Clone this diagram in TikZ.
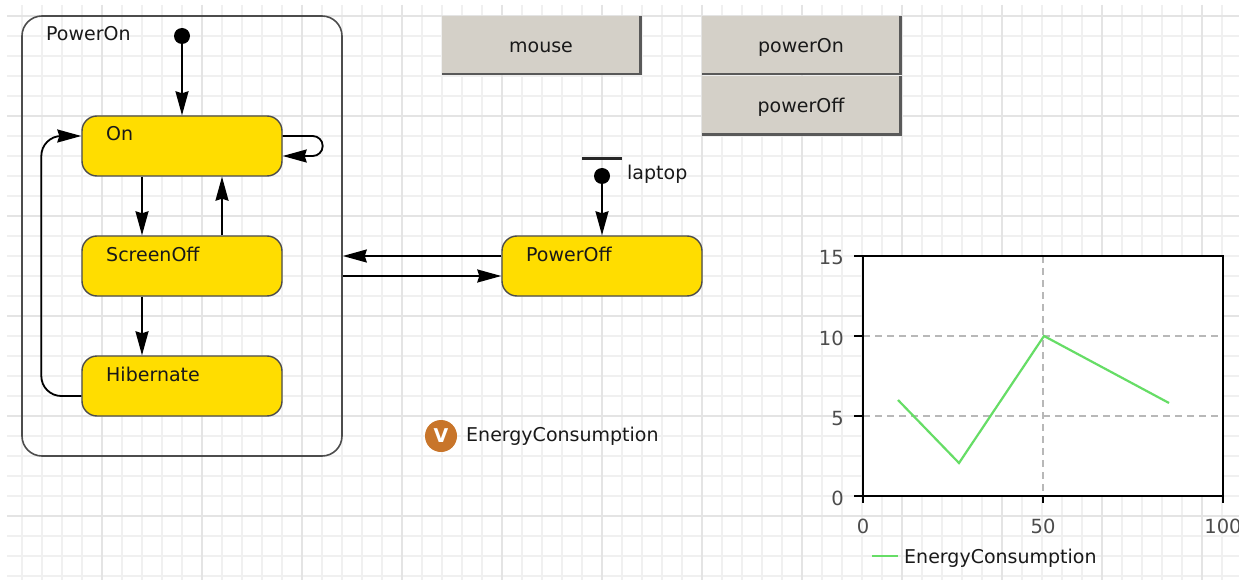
\documentclass[tikz,border=0pt]{standalone}
\usepackage{fontspec}
\setmainfont{DejaVu Sans}
\usepackage{xcolor}
\usetikzlibrary{arrows.meta}
\definecolor{stateyellow}{HTML}{FFDD00}
\definecolor{buttongray}{HTML}{D4D0C8}
\definecolor{gridminor}{HTML}{F0F0F0}
\definecolor{gridmajor}{HTML}{E4E4E4}
\definecolor{linegreen}{HTML}{66DD66}
\definecolor{iconbrown}{HTML}{C8752A}
\tikzset{
  statebox/.style={draw=black!70,fill=stateyellow,line width=1.4pt,rounded corners=15pt,minimum width=200pt,minimum height=60pt,inner sep=0pt},
  statetext/.style={anchor=base west,inner sep=0pt,font=\fontsize{19}{21}\selectfont,text=black!90},
  trans/.style={-{Stealth[length=24pt,width=13pt,inset=2pt]},line width=1.8pt,black},
  buttonbox/.style={fill=buttongray,minimum width=198pt,minimum height=58pt,inner sep=0pt,text height=16pt,text depth=1pt,font=\fontsize{19}{21}\selectfont,text=black!90},
  startdot/.style={circle,fill=black,minimum size=16pt,inner sep=0pt},
  ticktext/.style={inner sep=0pt,font=\fontsize{19.5}{21}\selectfont,text=black!70},
  griddash/.style={black!28,line width=1.6pt,dash pattern=on 7pt off 5pt},
}
\begin{document}
\begin{tikzpicture}[x=1pt,y=-1pt]
    \useasboundingbox (0,0) rectangle (1239,580);
	% grid
	\foreach \x in {22,42,...,1222} \draw[gridminor,line width=1.1pt] (\x,5) -- (\x,580);
	\foreach \y in {16,36,...,576} \draw[gridminor,line width=1.1pt] (7,\y) -- (1239,\y);
	\foreach \x in {102,202,...,1202} \draw[gridmajor,line width=1.3pt] (\x,5) -- (\x,580);
	\foreach \y in {16,116,...,516} \draw[gridmajor,line width=1.3pt] (7,\y) -- (1239,\y);
	% states
	\node[draw=black!70,line width=1.6pt,rounded corners=20pt,minimum width=320pt,minimum height=440pt,inner sep=0pt] (poweron) at (182,236) {};
	\node[statetext] (powerontext) at (46,41) {PowerOn};
	\node[startdot] (init) at (182,36) {};
	\node[statebox] (on) at (182,146) {};
	\node[statebox] (screenoff) at (182,266) {};
	\node[statebox] (hibernate) at (182,386) {};
	\node[statebox] (poweroff) at (602,266) {};
	\node[statetext] (ontext) at (106,141) {On};
	\node[statetext] (screenofftext) at (106,261) {ScreenOff};
	\node[statetext] (hibernatetext) at (106,381) {Hibernate};
	\node[statetext] (powerofftext) at (526,261) {PowerOff};
	\node[startdot] (laptopinit) at (602,176) {};
	\coordinate (barleft) at (582,159);
	\coordinate (barright) at (622,159);
	\node[statetext] (laptoptext) at (627,180) {laptop};
	% transitions
	\draw[trans] (init) -- (on);
	\draw[trans] (laptopinit) -- (poweroff);
	\draw[line width=3pt,black!85] (barleft) -- (barright);
	\draw[trans] ([xshift=-40pt]on.south) -- ([xshift=-40pt]screenoff.north);
	\draw[trans] ([xshift=40pt]screenoff.north) -- ([xshift=40pt]on.south);
	\draw[trans] ([xshift=-40pt]screenoff.south) -- ([xshift=-40pt]hibernate.north);
	\draw[trans,rounded corners=10pt] ([yshift=10pt]on.east) -- ++(40,0) -- ++(0,20) -- ([yshift=-10pt]on.east);
	\draw[trans,rounded corners=20pt] ([yshift=-10pt]hibernate.west) -- ++(-40,0) -- ++(0,-260) -- ([yshift=10pt]on.west);
	\draw[trans] ([yshift=10pt]poweroff.west) -- ([yshift=10pt]poweron.east |- poweroff.west);
	\draw[trans] ([yshift=-10pt]poweron.east |- poweroff.west) -- ([yshift=-10pt]poweroff.west);
	% buttons
	\node[buttonbox] (mouse) at (541,45) {mouse};
	\node[buttonbox] (poweronbutton) at (801,45) {powerOn};
	\node[buttonbox] (poweroffbutton) at (801,105.5) {powerOff};
	\foreach \b in {mouse,poweronbutton,poweroffbutton}
		\draw[black!65,line width=2.6pt] (\b.north east) -- (\b.south east) -- (\b.south west);
	% variable
	\node[circle,fill=iconbrown,minimum size=32pt,inner sep=0pt,text=white,font=\bfseries\fontsize{19}{21}\selectfont] (icon) at (441,436) {V};
	\node[statetext] (variabletext) at (466,441) {EnergyConsumption};
	% chart
	\fill[white] (863,256) rectangle (1223,496);
	\draw[griddash] (863,336) -- (1223,336);
	\draw[griddash] (863,416) -- (1223,416);
	\draw[griddash] (1043,256) -- (1043,496);
	\draw[linegreen,line width=2.2pt] (898,400) -- (959,463) -- (1044,336) -- (1169,403);
	\draw[black,line width=1.8pt] (863,256) rectangle (1223,496);
	\foreach \y/\b/\t in {256/264/15,336/345/10,416/425/5,496/505/0} {
		\draw[black,line width=1.8pt] (854,\y) -- (863,\y);
		\node[ticktext,anchor=base east] at (844,\b) {\t};
	}
	\foreach \x/\t in {863/0,1043/50,1223/100} {
		\draw[black,line width=1.8pt] (\x,496) -- (\x,503);
		\node[ticktext,anchor=base] at (\x,533) {\t};
	}
	\draw[linegreen,line width=2.2pt] (872,556) -- (898,556);
	\node[statetext] (legendtext) at (904,563) {EnergyConsumption};
\end{tikzpicture}
\end{document}
